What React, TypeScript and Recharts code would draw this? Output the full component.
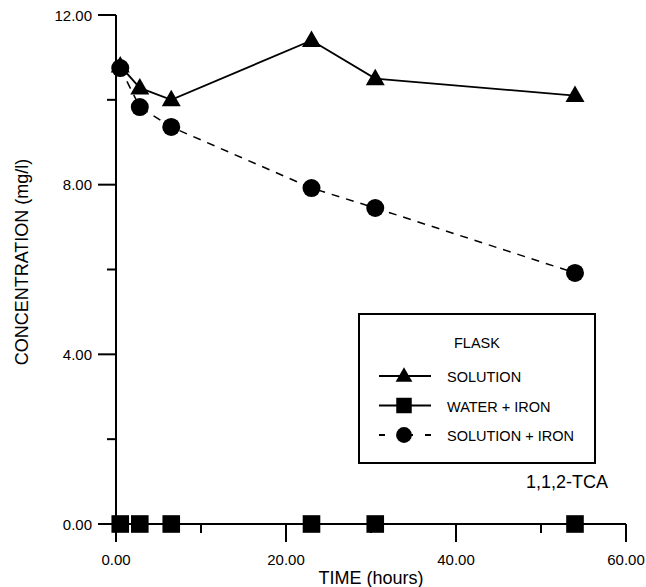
import { Label, Legend, Line, LineChart, XAxis, YAxis } from 'recharts'

const hours = [0.5, 2.8, 6.5, 23, 30.5, 54]
const solution = [10.8, 10.28, 10.0, 11.4, 10.5, 10.1]
const waterIron = [0, 0, 0, 0, 0, 0]
const solutionIron = [10.75, 9.83, 9.36, 7.92, 7.45, 5.92]

const xTicks = [0, 10, 20, 30, 40, 50, 60]
const yTicks = [0, 2, 4, 6, 8, 10, 12]
const seriesNames = ['SOLUTION', 'WATER + IRON', 'SOLUTION + IRON']

const rows = hours.map((h, i) => ({
  time: h,
  solution: solution[i],
  waterIron: waterIron[i],
  solutionIron: solutionIron[i],
}))

const FONT = '"Liberation Sans", Arial, sans-serif'

function Triangle({ cx, cy, s = 1 }: any) {
  if (cx == null || cy == null) return null
  return (
    <polygon
      points={`${cx},${cy - 10 * s} ${cx - 9.5 * s},${cy + 6.5 * s} ${cx + 9.5 * s},${cy + 6.5 * s}`}
      fill="#000"
    />
  )
}

function Square({ cx, cy, s = 1 }: any) {
  if (cx == null || cy == null) return null
  const h = 8.8 * s
  return <rect x={cx - h} y={cy - h} width={h * 2} height={h * 2} fill="#000" />
}

function Circle({ cx, cy, s = 1 }: any) {
  if (cx == null || cy == null) return null
  return <circle cx={cx} cy={cy} r={9 * s} fill="#000" />
}

// tick marks drawn as thin filled rects, long for labelled ticks
function renderXTick(p: any) {
  const v = p.payload.value
  const major = v % 20 === 0
  return (
    <g key={`xt-${v}`}>
      <rect x={p.x - 1} y={p.y} width={2} height={major ? 18 : 9} fill="#000" />
      {major && (
        <text x={p.x} y={p.y + 41} textAnchor="middle" fontSize={15} fontFamily={FONT} fill="#000">
          {v.toFixed(2)}
        </text>
      )}
    </g>
  )
}

function renderYTick(p: any) {
  const v = p.payload.value
  const major = v % 4 === 0
  const len = major ? 18 : 9
  return (
    <g key={`yt-${v}`}>
      <rect x={p.x - len} y={p.y - 1} width={len} height={2} fill="#000" />
      {major && (
        <text x={p.x - 24} y={p.y + 5.5} textAnchor="end" fontSize={15} fontFamily={FONT} fill="#000">
          {v.toFixed(2)}
        </text>
      )}
    </g>
  )
}

function FlaskLegend() {
  const markers = [Triangle, Square, Circle]
  return (
    <svg width={262} height={182} style={{ overflow: 'visible' }}>
      <rect x={1} y={1} width={236} height={149} fill="#fff" stroke="#000" strokeWidth={2} />
      <text x={96} y={35} fontSize={14.5} fontFamily={FONT}>FLASK</text>
      {seriesNames.map((name, i) => {
        const cy = 63 + i * 29.5
        const Marker = markers[i]
        return (
          <g key={name}>
            <line
              x1={21}
              x2={73}
              y1={cy}
              y2={cy}
              stroke="#000"
              strokeWidth={2}
              strokeDasharray={i === 2 ? '6 12 16 12 6' : undefined}
            />
            <Marker cx={46} cy={cy} s={0.88} />
            <text x={89} y={cy + 6} fontSize={14.5} fontFamily={FONT}>{name}</text>
          </g>
        )
      })}
      <text x={250} y={175} textAnchor="end" fontSize={18} fontFamily={FONT}>1,1,2-TCA</text>
    </svg>
  )
}

export default function App() {
  return (
    <div style={{ position: 'absolute', left: 0, top: 0, background: '#fff' }}>
      <LineChart width={646} height={587} data={rows} margin={{ top: 15, right: 20, left: 56, bottom: 23 }}>
        <XAxis
          dataKey="time"
          type="number"
          domain={[0, 60]}
          ticks={xTicks}
          interval={0}
          height={40}
          axisLine={{ stroke: '#000', strokeWidth: 2 }}
          tickLine={false}
          tickSize={0}
          tickMargin={0}
          tick={renderXTick}
        >
          <Label
            content={() => (
              <text x={371} y={584} textAnchor="middle" fontSize={18} fontFamily={FONT}>
                TIME (hours)
              </text>
            )}
          />
        </XAxis>
        <YAxis
          type="number"
          domain={[0, 12]}
          ticks={yTicks}
          interval={0}
          width={60}
          axisLine={{ stroke: '#000', strokeWidth: 2 }}
          tickLine={false}
          tickSize={0}
          tickMargin={0}
          tick={renderYTick}
        >
          <Label
            content={() => (
              <text
                x={28}
                y={262}
                textAnchor="middle"
                fontSize={18}
                fontFamily={FONT}
                transform="rotate(-90 28 262)"
              >
                CONCENTRATION (mg/l)
              </text>
            )}
          />
        </YAxis>
        <Legend
          layout="vertical"
          align="center"
          verticalAlign="middle"
          wrapperStyle={{ left: 358, top: 313, width: 262, height: 182 }}
          content={() => <FlaskLegend />}
        />
        <Line
          dataKey="solution"
          stroke="#000"
          strokeWidth={1.8}
          dot={(p: any) => <Triangle key={p.index} cx={p.cx} cy={p.cy} />}
          activeDot={false}
          isAnimationActive={false}
        />
        <Line
          dataKey="waterIron"
          stroke="#000"
          strokeWidth={1.8}
          dot={(p: any) => <Square key={p.index} cx={p.cx} cy={p.cy} />}
          activeDot={false}
          isAnimationActive={false}
        />
        <Line
          dataKey="solutionIron"
          stroke="#000"
          strokeWidth={1.5}
          strokeDasharray="8 7"
          dot={(p: any) => <Circle key={p.index} cx={p.cx} cy={p.cy} />}
          activeDot={false}
          isAnimationActive={false}
        />
      </LineChart>
    </div>
  )
}
